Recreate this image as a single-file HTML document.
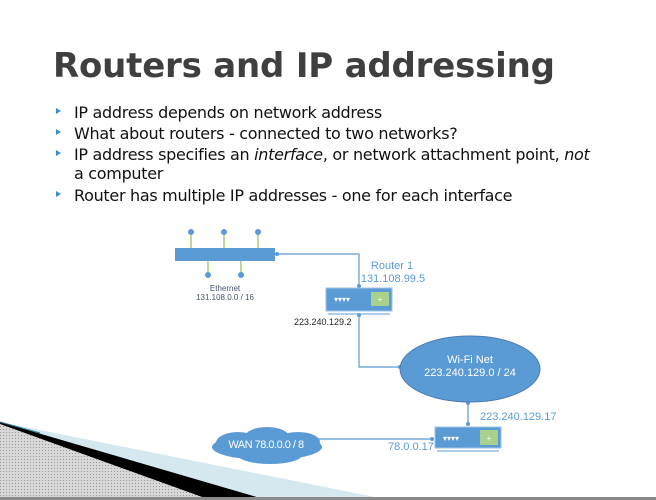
<!DOCTYPE html>
<html><head><style>
body{margin:0;width:656px;height:500px;overflow:hidden;background:#fff;font-family:"Liberation Sans","DejaVu Sans",sans-serif;position:relative}
.t{position:absolute;left:53px;top:46px;font-size:34px;font-weight:bold;color:#3f3f3f;font-family:"DejaVu Sans","Liberation Sans",sans-serif;letter-spacing:-0.2px}
.b{position:absolute;left:74px;font-size:16px;color:#111;font-family:"DejaVu Sans","Liberation Sans",sans-serif;letter-spacing:-0.3px;line-height:19px}
.m{position:absolute;left:56px;width:0;height:0;border-left:5px solid #3a8fc9;border-top:3px solid transparent;border-bottom:3px solid transparent}
</style></head><body>
<div class="t">Routers and IP addressing</div>
<div class="m" style="top:108px"></div><div class="b" style="top:103px">IP address depends on network address</div>
<div class="m" style="top:129px"></div><div class="b" style="top:124px">What about routers - connected to two networks?</div>
<div class="m" style="top:150px"></div><div class="b" style="top:145px">IP address specifies an <i>interface</i>, or network attachment point, <i>not</i><br>a computer</div>
<div class="m" style="top:191px"></div><div class="b" style="top:186px">Router has multiple IP addresses - one for each interface</div>
<svg width="656" height="500" style="position:absolute;left:0;top:0" font-family="Liberation Sans,DejaVu Sans,sans-serif">
<defs><pattern id="p" width="3" height="3" patternUnits="userSpaceOnUse"><rect width="3" height="3" fill="#d8d8d8"/><rect width="1" height="1" fill="#999"/></pattern></defs>
<polygon points="0,422 380,498 0,498" fill="#d6e8ef"/>
<polygon points="0,422 260,498 0,498" fill="#000"/>
<polygon points="0,424 205,498 0,498" fill="url(#p)"/>
<line x1="0" y1="422" x2="40" y2="433" stroke="#2a7a8a" stroke-width="1"/>
<rect x="0" y="497" width="656" height="3" fill="#8a8a8a"/>
<g stroke="#8cc152" stroke-width="1.2">
<line x1="191" y1="233" x2="191" y2="248"/><line x1="224" y1="233" x2="224" y2="248"/><line x1="258" y1="233" x2="258" y2="248"/>
<line x1="208" y1="261" x2="208" y2="274"/><line x1="241" y1="261" x2="241" y2="274"/></g>
<g fill="#5b9bd5"><circle cx="191" cy="232" r="3"/><circle cx="224" cy="232" r="3"/><circle cx="258" cy="232" r="3"/><circle cx="208" cy="275" r="3"/><circle cx="241" cy="275" r="3"/></g>
<rect x="175" y="248" width="100" height="13" fill="#5b9bd5"/>
<text x="225" y="291" font-size="8" fill="#44546a" text-anchor="middle">Ethernet</text>
<text x="225" y="300" font-size="8" fill="#44546a" text-anchor="middle">131.108.0.0 / 16</text>
<g stroke="#5b9bd5" stroke-width="1.2" fill="none">
<polyline points="277,254 359,254 359,287"/>
<polyline points="359,314 359,367 400,367"/>
<polyline points="468,402 468,424"/>
<line x1="278" y1="439" x2="432" y2="439"/></g>
<g fill="#5b9bd5"><circle cx="277" cy="254" r="2"/><circle cx="359" cy="286" r="2"/><circle cx="359" cy="315" r="2"/><circle cx="400" cy="367" r="2"/><circle cx="468" cy="403" r="2"/><circle cx="468" cy="424" r="2"/><circle cx="278" cy="439" r="2"/><circle cx="432" cy="439" r="2"/></g>
<text x="392" y="269" font-size="11" fill="#5b9bd5" text-anchor="middle">Router 1</text>
<text x="393" y="282" font-size="11" fill="#5b9bd5" text-anchor="middle">131.108.99.5</text>
<rect x="326" y="288" width="66" height="23" fill="#5b9bd5" stroke="#9dc3e6"/>
<line x1="328" y1="314" x2="390" y2="314" stroke="#5b9bd5"/>
<text x="334" y="302" font-size="8" fill="#fff">▾▾▾▾</text>
<rect x="371" y="292" width="18" height="14" fill="#a9d18e"/>
<text x="380" y="302" font-size="8" fill="#fff" text-anchor="middle">+</text>
<text x="294" y="325" font-size="9" fill="#222">223.240.129.2</text>
<ellipse cx="470" cy="369" rx="70" ry="33" fill="#5b9bd5" stroke="#4a7ab0"/>
<text x="470" y="363" font-size="11" fill="#fff" text-anchor="middle">Wi-Fi Net</text>
<text x="470" y="376" font-size="11" fill="#fff" text-anchor="middle">223.240.129.0 / 24</text>
<text x="480" y="420" font-size="11" fill="#5b9bd5">223.240.129.17</text>
<rect x="435" y="427" width="66" height="21" fill="#5b9bd5" stroke="#9dc3e6"/>
<line x1="437" y1="451" x2="499" y2="451" stroke="#5b9bd5"/>
<text x="443" y="441" font-size="8" fill="#fff">▾▾▾▾</text>
<rect x="480" y="430" width="18" height="15" fill="#a9d18e"/>
<text x="489" y="441" font-size="8" fill="#fff" text-anchor="middle">+</text>
<text x="388" y="450" font-size="11" fill="#5b9bd5">78.0.0.17</text>
<g fill="#5b9bd5"><ellipse cx="267" cy="447" rx="55" ry="13"/><ellipse cx="238" cy="443" rx="22" ry="11"/><ellipse cx="267" cy="437" rx="22" ry="10"/><ellipse cx="298" cy="442" rx="22" ry="10"/><ellipse cx="270" cy="455" rx="32" ry="9"/></g>
<text x="266" y="448" font-size="11" fill="#fff" text-anchor="middle" letter-spacing="-0.5">WAN 78.0.0.0 / 8</text>
</svg>
</body></html>
